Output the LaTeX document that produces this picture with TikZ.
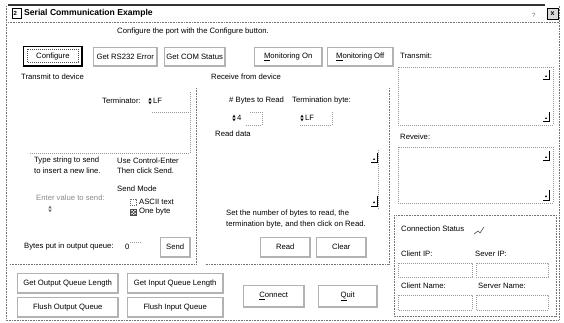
\documentclass[tikz,border=0pt]{standalone}
\usepackage{fontspec}
\setmainfont{Liberation Sans}
\usetikzlibrary{patterns}
\newcommand\uif{\fontsize{7.7}{8}\selectfont}
\tikzset{
  lbl/.style={anchor=west,inner sep=0pt,font=\uif},
  faint/.style={anchor=west,inner sep=0pt,font=\uif,text=black!45},
  dotline/.style={draw=black!55,line width=0.5pt,dash pattern=on 0.8pt off 0.8pt},
  dotbox/.style={draw=black!40,line width=0.5pt,dash pattern=on 0.8pt off 1.2pt},
  btn/.style={draw=black!30,line width=0.4pt,inner sep=0pt,font=\uif,
    path picture={\draw[line width=2.4pt]
      (path picture bounding box.south west) -- (path picture bounding box.south east)
      -- (path picture bounding box.north east);}},
  pics/scrl/.style={code={
    \draw[line width=1pt] (-6,3) -- (0,3) -- (0,-7);
    \fill (-4,0) -- (-2,0) -- (-3,-2) -- cycle;}},
  pics/spin/.style={code={
    \fill (-1.6,-0.7) -- (1.6,-0.7) -- (0,-3.3) -- cycle;
    \fill (-1.6,0.7) -- (1.6,0.7) -- (0,3.3) -- cycle;}}
}
\begin{document}
\begin{tikzpicture}[x=1pt,y=-1pt]
\useasboundingbox (0,0) rectangle (564,323);
\fill[white] (0,0) rectangle (564,323);
% window frame
\draw[line width=1.6pt,black!80] (8,5) -- (545,5);
\draw[dotline] (6,6) -- (6,320) -- (559,320) -- (559,6);
\draw[dotline] (8,22) -- (559,22);
% title bar
\draw[line width=0.6pt] (12,8) rectangle (21,18);
\node[lbl,font=\fontsize{6}{6}\selectfont\bfseries] (ico) at (13.5,13) {2};
\node[lbl,font=\fontsize{8.6}{9}\selectfont\bfseries] (title) at (24,13.5) {Serial Communication Example};
\node[lbl,text=black!60] (help) at (532,15) {\fontsize{6}{6}\selectfont ?};
\draw[line width=0.8pt,fill=black!15] (547,8) rectangle (558,19);
\node[inner sep=0pt,font=\fontsize{7}{7}\selectfont\bfseries] (close) at (552.5,13.5) {x};
% subtitle
\node[inner sep=0pt,font=\uif] (sub) at (193,32) {Configure the port with the Configure button.};
% top buttons
\node[btn,draw=black,line width=0.8pt,anchor=north west,minimum width=59pt,minimum height=20pt] (cfg) at (23,46) {Configure};
\draw[dotbox,draw=black!70] (27,49) rectangle (78,62);
\node[btn,anchor=north west,minimum width=64pt,minimum height=19pt] (rs) at (93,47) {Get RS232 Error};
\node[btn,anchor=north west,minimum width=61pt,minimum height=19pt] (com) at (164,47) {Get COM Status};
\node[btn,anchor=north west,minimum width=68pt,minimum height=19pt] (mon) at (254,47) {\underline{M}onitoring On};
\node[btn,anchor=north west,minimum width=66pt,minimum height=19pt] (moff) at (327,47) {\underline{M}onitoring Off};
% left group
\node[lbl] (txd) at (21,77) {Transmit to device};
\draw[dotline] (196,88) -- (196,264);
\draw[dotline] (10,264) -- (196,264);
\node[lbl] (term) at (102,101) {Terminator:};
\pic (sp1) at (150,101) {spin};
\node[lbl] (lf1) at (153,101) {LF};
\draw[dotbox] (152,112) -- (190,112);
\draw[dotbox] (190,92) -- (190,153) -- (30,153);
\node[lbl] (type1) at (34,161) {Type string to send};
\node[lbl] (type1b) at (117,161) {Use Control-Enter};
\node[lbl] (type2) at (34,171) {to insert a new line.};
\node[lbl] (type2b) at (117,171) {Then click Send.};
\node[lbl] (smode) at (117,189) {Send Mode};
\node[faint] (enter) at (36,198) {Enter value to send:};
\pic[black!60] (sp2) at (50,209) {spin};
\draw[dotbox,draw=black!60] (130,199) rectangle (136,205);
\node[lbl] (ascii) at (139,202) {ASCII text};
\draw[black!70,pattern=crosshatch,pattern color=black!80] (130,209) rectangle (136,215);
\node[lbl] (onebyte) at (139,212) {One byte};
\node[lbl] (bpq) at (24,247) {Bytes put in output queue:};
\node[lbl] (zero) at (125,247) {0};
\draw[dotbox] (130,242) -- (142,242);
\node[btn,anchor=north west,minimum width=30pt,minimum height=20pt] (send) at (160,237) {Send};
% receive group
\node[lbl] (rxd) at (211,77) {Receive from device};
\draw[dotline] (389,88) -- (389,264) -- (205,264);
\node[lbl] (nbytes) at (229,101) {\# Bytes to Read};
\node[lbl] (tbyte) at (292,101) {Termination byte:};
\pic (sp3) at (234,118) {spin};
\node[lbl] (four) at (237,118) {4};
\draw[dotbox] (250,112) -- (262,112) -- (262,125) -- (245,125);
\pic (sp4) at (302,118) {spin};
\node[lbl] (lf2) at (305,118) {LF};
\draw[dotbox] (332,112) -- (332,125) -- (300,125);
\node[lbl] (rdata) at (215,134) {Read data};
\pic (sc1) at (377,160) {scrl};
\pic (sc2) at (377,203) {scrl};
\draw[dotbox] (378,150) -- (378,210);
\node[lbl] (set1) at (226,214) {Set the number of bytes to read, the};
\node[lbl] (set2) at (226,225) {termination byte, and then click on Read.};
\node[btn,anchor=north west,minimum width=50pt,minimum height=20pt] (read) at (260,237) {Read};
\node[btn,anchor=north west,minimum width=50pt,minimum height=20pt] (clear) at (316,237) {Clear};
% bottom buttons
\node[btn,anchor=north west,minimum width=101pt,minimum height=20pt] (goql) at (17,273) {Get Output Queue Length};
\node[btn,anchor=north west,minimum width=96pt,minimum height=20pt] (giql) at (127,273) {Get Input Queue Length};
\node[btn,anchor=north west,minimum width=101pt,minimum height=20pt] (foq) at (17,297) {Flush Output Queue};
\node[btn,anchor=north west,minimum width=96pt,minimum height=20pt] (fiq) at (127,297) {Flush Input Queue};
\node[btn,anchor=north west,minimum width=61pt,minimum height=22pt] (conn) at (243,285) {\underline{C}onnect};
\node[btn,anchor=north west,minimum width=59pt,minimum height=22pt] (quit) at (318,285) {\underline{Q}uit};
% right panel
\node[lbl] (tx) at (400,56) {Transmit:};
\draw[dotbox] (398,67) rectangle (553,125);
\pic (sc3) at (549,77) {scrl};
\pic (sc4) at (549,119) {scrl};
\node[lbl] (rx) at (400,137) {Reveive:};
\draw[dotbox] (398,147) rectangle (553,203);
\pic (sc5) at (549,158) {scrl};
\pic (sc6) at (549,197) {scrl};
\draw[dotline] (394,215) rectangle (556,316);
\node[lbl] (cstat) at (401,229) {Connection Status};
\draw[black!70,line width=0.6pt] (474,234) -- (478,231) -- (480,233) -- (484,227);
\node[lbl] (cip) at (401,254) {Client IP:};
\node[lbl] (sip) at (475,254) {Sever IP:};
\draw[dotbox] (398,263) rectangle (472,277);
\draw[dotbox] (476,263) rectangle (548,277);
\node[lbl] (cname) at (401,286) {Client Name:};
\node[lbl] (sname) at (478,286) {Server Name:};
\draw[dotbox] (398,295) rectangle (472,310);
\draw[dotbox] (476,295) rectangle (548,310);
\end{tikzpicture}
\end{document}
